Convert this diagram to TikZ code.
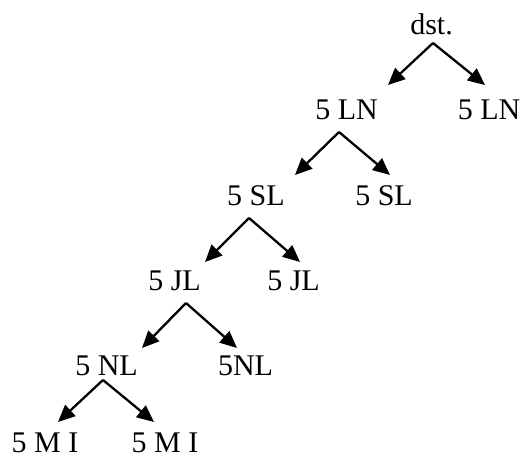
\documentclass[tikz,border=0pt]{standalone}
\usepackage{fontspec}
\setmainfont{Liberation Serif}
\usetikzlibrary{arrows.meta}
\begin{document}
\begin{tikzpicture}[x=1pt,y=-1pt,
  lbl/.style={anchor=base,inner sep=0pt,font=\fontsize{30}{36}\selectfont},
  arr/.style={line width=2.3pt,-{Triangle[length=17pt,width=15pt]}}]
\useasboundingbox (0,0) rectangle (524,460);
% labels, placed on their baselines
\node[lbl] (d)   at (431.5,35)  {dst.};
\node[lbl] (ln1) at (346.5,119) {5 LN};
\node[lbl] (ln2) at (489,119)   {5 LN};
\node[lbl] (sl1) at (256,205)   {5 SL};
\node[lbl] (sl2) at (384,205)   {5 SL};
\node[lbl] (jl1) at (174.5,290) {5 JL};
\node[lbl] (jl2) at (293.5,290) {5 JL};
\node[lbl] (nl1) at (106.5,375) {5 NL};
\node[lbl] (nl2) at (245.5,375) {5NL};
\node[lbl] (mi1) at (45,452)  {5 M I};
\node[lbl] (mi2) at (165,452) {5 M I};
% branch points below each parent and tips above each child
\coordinate (dA)  at (433,43);
\coordinate (lnA) at (339,132);
\coordinate (slA) at (249,218);
\coordinate (jlA) at (186,303);
\coordinate (nlA) at (103,380);
\coordinate (ln1T) at (388,85);  \coordinate (ln2T) at (485,85);
\coordinate (sl1T) at (295,175); \coordinate (sl2T) at (390,175);
\coordinate (jl1T) at (205,262); \coordinate (jl2T) at (300,262);
\coordinate (nl1T) at (142,348); \coordinate (nl2T) at (237,348);
\coordinate (mi1T) at (58,422);  \coordinate (mi2T) at (154,422);
% branches
\draw[arr] (dA) -- (ln1T);  \draw[arr] (dA) -- (ln2T);
\draw[arr] (lnA) -- (sl1T); \draw[arr] (lnA) -- (sl2T);
\draw[arr] (slA) -- (jl1T); \draw[arr] (slA) -- (jl2T);
\draw[arr] (jlA) -- (nl1T); \draw[arr] (jlA) -- (nl2T);
\draw[arr] (nlA) -- (mi1T); \draw[arr] (nlA) -- (mi2T);
\end{tikzpicture}
\end{document}
